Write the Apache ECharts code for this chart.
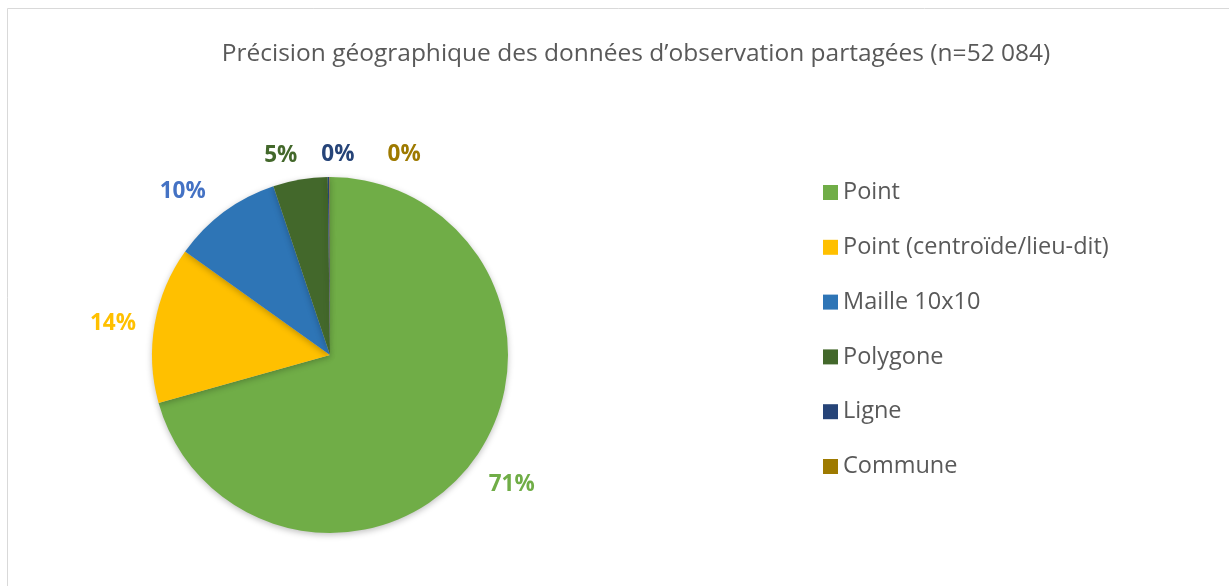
<!DOCTYPE html>
<html>
<head>
<meta charset="utf-8">
<script src="https://cdn.jsdelivr.net/npm/echarts@6/dist/echarts.min.js"></script>
<style>
html,body{margin:0;padding:0;background:#fff;}
#chart{width:1229px;height:586px;}
</style>
</head>
<body>
<div id="chart"></div>
<script>
// Data
var titleText = 'Précision géographique des données d\u2019observation partagées (n=52 084)';
var categories = ['Point', 'Point (centroïde/lieu-dit)', 'Maille 10x10', 'Polygone', 'Ligne', 'Commune'];
var counts = [36800, 7400, 5200, 2580, 80, 24];
var sliceColors = ['#70AD47', '#FFC000', '#2E75B6', '#43682B', '#264478', '#9E7A00'];
var labelColors = ['#70AD47', '#FFC000', '#4472C4', '#43682B', '#264478', '#9E7A00'];

// label fine offsets (style only)
var labelShift = [[-4, 10], [6, 3], [-1.5, -4], [5.5, -4], [31, -2], [96, -2]];

var FONT = '"Open Sans", sans-serif';
var chart = echarts.init(document.getElementById('chart'), null, {renderer: 'canvas'});

var seriesData = categories.map(function (c, i) {
  return {
    name: c,
    value: counts[i],
    itemStyle: {color: sliceColors[i]},
    label: {color: labelColors[i]}
  };
});

chart.setOption({
  animation: false,
  backgroundColor: '#fff',
  title: {
    text: titleText,
    left: 636,
    top: 42,
    padding: 0,
    textAlign: 'center',
    textStyle: {fontFamily: FONT, fontSize: 24.5, fontWeight: 'normal', color: '#595959'}
  },
  legend: {
    orient: 'vertical',
    left: 823,
    top: 179.5,
    padding: 0,
    itemWidth: 15,
    itemHeight: 15,
    itemGap: 28.8,
    itemTextGap: 7,
    icon: 'rect',
    data: categories,
    textStyle: {fontFamily: FONT, fontSize: 23.5, lineHeight: 26, color: '#595959'}
  },
  graphic: [{
    type: 'rect',
    silent: true,
    z: -10,
    shape: {x: 7.5, y: 8.5, width: 1260, height: 620},
    style: {fill: 'none', stroke: '#D9D9D9', lineWidth: 1}
  }],
  series: [{
    type: 'pie',
    center: [330, 355],
    radius: 178,
    startAngle: 90,
    clockwise: true,
    avoidLabelOverlap: false,
    minAngle: 0,
    data: seriesData,
    itemStyle: {borderWidth: 0, shadowBlur: 6, shadowColor: 'rgba(0,0,0,0.25)', shadowOffsetY: 2},
    label: {
      show: true,
      position: 'outside',
      distanceToLabelLine: 5,
      fontFamily: FONT,
      fontSize: 22.5,
      fontWeight: 'bold',
      formatter: function (p) { return Math.round(p.percent) + '%'; }
    },
    labelLine: {show: false, length: 20, length2: 0},
    labelLayout: function (p) {
      var s = labelShift[p.dataIndex];
      return {dx: s[0], dy: s[1]};
    },
    emphasis: {disabled: true}
  }]
});
</script>
</body>
</html>
